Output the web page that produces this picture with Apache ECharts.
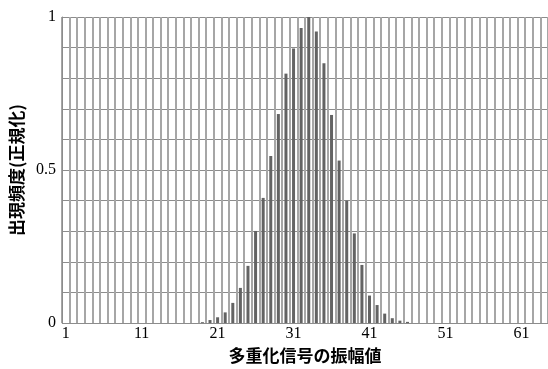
<!DOCTYPE html>
<html>
<head>
<meta charset="utf-8">
<script src="https://cdn.jsdelivr.net/npm/echarts@6/dist/echarts.min.js"></script>
<style>
html,body{margin:0;padding:0;background:#fff;}
#c{width:548px;height:369px;}
</style>
</head>
<body>
<div id="c"></div>
<script>
// categories: amplitude values 1..64
const categories = [];
for (let i = 1; i <= 64; i++) categories.push(String(i));

// normalized occurrence frequency (index 0 = amplitude 1)
const frequency = [
  0,0,0,0,0,0,0,0,0,0,
  0,0,0,0,0,0,0,0,0.003,0.010,
  0.019,0.035,0.066,0.115,0.187,0.301,0.409,0.546,0.683,0.815,
  0.897,0.964,1.0,0.953,0.849,0.680,0.531,0.400,0.293,0.190,
  0.090,0.059,0.031,0.016,0.008,0.004,0,0,0,0,
  0,0,0,0,0,0,0,0,0,0,
  0,0,0,0
];

const yTickLabels = { '0': '0', '0.5': '0.5', '1': '1' };
const xTitle = '多重化信号の振幅値';
const yTitle = '出現頻度(正規化)';

const chart = echarts.init(document.getElementById('c'), null, { renderer: 'canvas' });
const serif = '"Liberation Serif", "DejaVu Serif", serif';
const cjk = '"Noto Sans CJK JP", sans-serif';

chart.setOption({
  animation: false,
  backgroundColor: '#ffffff',
  grid: { left: 54.5, top: 17, width: 495.4, height: 313, containLabel: false },
  xAxis: {
    type: 'category', data: categories, boundaryGap: true,
    axisLine: { show: false }, axisTick: { show: false },
    axisLabel: { interval: 9, margin: 3, color: '#000', fontFamily: serif, fontSize: 16 },
    splitLine: { show: true, interval: 0, lineStyle: { color: '#a6a6a6', width: 2 } },
    name: xTitle, nameLocation: 'middle', nameGap: 23,
    nameTextStyle: { fontFamily: cjk, fontWeight: 'bold', fontSize: 17, color: '#000' }
  },
  yAxis: {
    type: 'value', min: 0, max: 1, interval: 0.1,
    axisLine: { show: true, lineStyle: { color: '#8c8c8c', width: 1 } },
    axisTick: { show: false },
    axisLabel: {
      margin: 6, color: '#000', fontFamily: serif, fontSize: 16,
      formatter: function (v) {
        const k = String(Math.round(v * 10) / 10);
        return yTickLabels[k] !== undefined ? yTickLabels[k] : '';
      }
    },
    splitLine: { show: true, lineStyle: { color: '#8c8c8c', width: 1 } },
    name: yTitle, nameLocation: 'middle', nameGap: 30, nameRotate: 90,
    nameTextStyle: { fontFamily: cjk, fontWeight: 'bold', fontSize: 17, color: '#000' }
  },
  series: [
    {
      type: 'bar', data: frequency,
      barWidth: 3, z: 5,
      itemStyle: { color: '#636363' }
    }
  ]
});
</script>
</body>
</html>
